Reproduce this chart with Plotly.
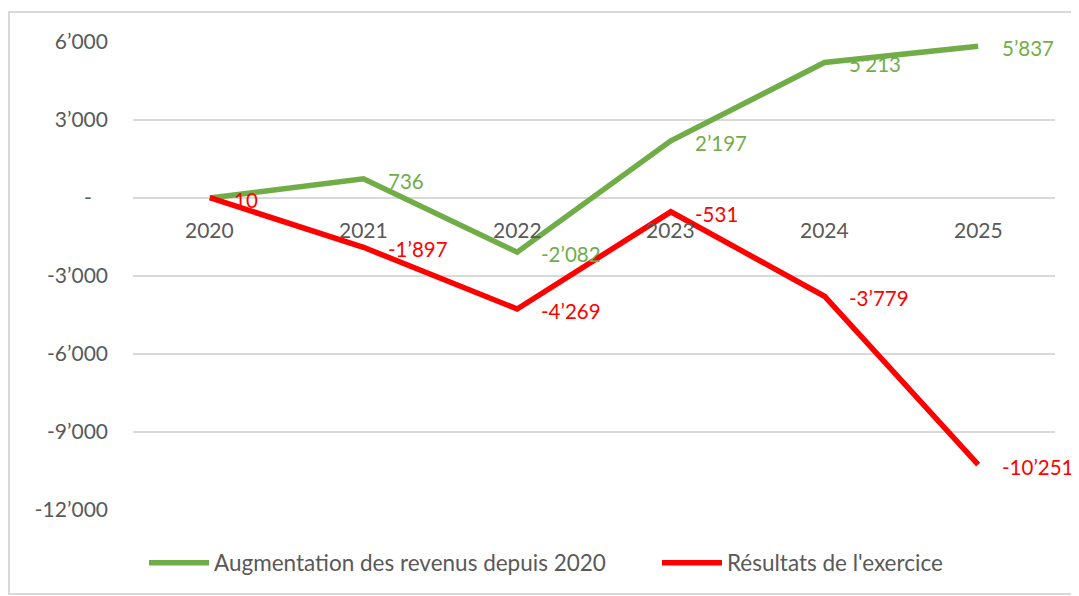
import plotly.graph_objects as go

years = ["2020", "2021", "2022", "2023", "2024", "2025"]
revenus = [0, 736, -2082, 2197, 5213, 5837]
resultats = [10, -1897, -4269, -531, -3779, -10251]
tick_vals = [6000, 3000, 0, -3000, -6000, -9000, -12000]

name_rev = "Augmentation des revenus depuis 2020"
name_res = "Résultats de l'exercice"

GREEN = "#70AD47"
RED = "#FF0000"
GRAY = "#595959"
FONT = "Lato, Carlito, Calibri, sans-serif"
# page body has an 8px margin: the figure is sized to fill the rest of the window
OFF = 8
W, H = 1079 - OFF, 596 - OFF


def fmt(v):
    if v == 0:
        return "-\u00a0\u00a0\u00a0"
    s = f"{abs(v):,}".replace(",", "\u2019")
    return ("-" if v < 0 else "") + s


xs = list(range(len(years)))

fig = go.Figure()
fig.add_trace(go.Scatter(x=xs, y=revenus, mode="lines", name=name_rev,
                         line=dict(color=GREEN, width=5.5), legend="legend"))
fig.add_trace(go.Scatter(x=xs, y=resultats, mode="lines", name=name_res,
                         line=dict(color=RED, width=5.5), legend="legend2"))

annotations = []
for i, v in enumerate(revenus):
    if v == 0:
        continue
    annotations.append(dict(x=xs[i], y=v, xref="x", yref="y", text=fmt(v),
                            showarrow=False, xanchor="left", yanchor="middle",
                            xshift=22, yshift=-2,
                            font=dict(family=FONT, size=20.5, color=GREEN)))
for i, v in enumerate(resultats):
    annotations.append(dict(x=xs[i], y=v, xref="x", yref="y", text=fmt(v),
                            showarrow=False, xanchor="left", yanchor="middle",
                            xshift=22, yshift=-2,
                            font=dict(family=FONT, size=20.5, color=RED)))
for i, yr in enumerate(years):
    annotations.append(dict(x=xs[i], y=0, xref="x", yref="y", text=yr,
                            showarrow=False, xanchor="center", yanchor="middle",
                            yshift=-31,
                            font=dict(family=FONT, size=21, color=GRAY)))

leg_common = dict(orientation="h", yref="container", xref="container",
                  y=(596 - 563) / H, yanchor="middle", xanchor="left",
                  itemwidth=60,
                  font=dict(family=FONT, size=22.5, color=GRAY),
                  bgcolor="rgba(0,0,0,0)")

fig.update_layout(
    width=W, height=H,
    margin=dict(l=133 - OFF, r=24, t=42 - OFF, b=86, autoexpand=False),
    paper_bgcolor="white", plot_bgcolor="white",
    font=dict(family=FONT, color=GRAY),
    showlegend=True,
    legend=dict(x=(144 - OFF) / W, **leg_common),
    legend2=dict(x=(657 - OFF) / W, **leg_common),
    xaxis=dict(range=[-0.5, 5.5], showticklabels=False, showgrid=False,
               zeroline=False, showline=False, fixedrange=True, automargin=False),
    yaxis=dict(range=[-12000, 6000], tickvals=tick_vals,
               ticktext=[fmt(v) for v in tick_vals], automargin=False,
               showgrid=True, gridcolor="#D9D9D9", gridwidth=1.5,
               zeroline=False, showline=False, ticklabelstandoff=24,
               tickfont=dict(family=FONT, size=21, color=GRAY)),
    annotations=annotations,
    shapes=[dict(type="rect", xref="paper", yref="paper",
                 x0=(9 - 133) / 922, x1=(1076 - 133) / 922,
                 y0=(510 - 594) / 468, y1=(510 - 12) / 468,
                 line=dict(color="#D9D9D9", width=2), fillcolor="rgba(0,0,0,0)",
                 layer="below")],
)

fig.write_html("out.html")
